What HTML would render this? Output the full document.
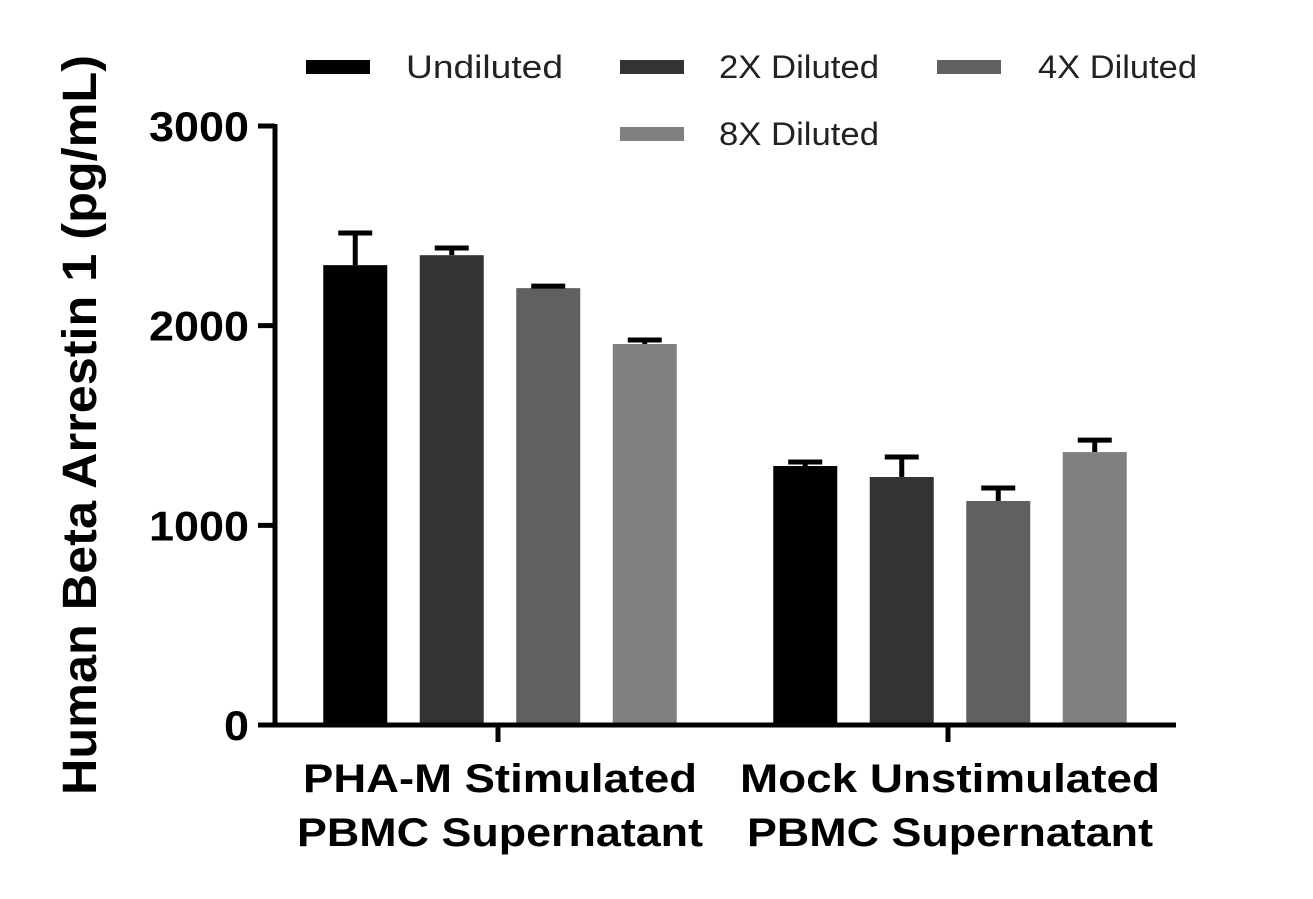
<!DOCTYPE html>
<html><head><meta charset="utf-8"><style>
html,body{margin:0;padding:0;background:#fff;}
svg{display:block;font-family:"Liberation Sans",Arial,sans-serif;}
</style></head><body>
<svg id="chart" width="1313" height="899" viewBox="0 0 1313 899"></svg>
<script>
const groups = ["PHA-M Stimulated|PBMC Supernatant", "Mock Unstimulated|PBMC Supernatant"];
const seriesNames = ["Undiluted", "2X Diluted", "4X Diluted", "8X Diluted"];
const seriesColors = ["#000000", "#333333", "#606060", "#808080"];
const meanUndiluted = [2303, 1297];
const mean2X = [2353, 1242];
const mean4X = [2188, 1122];
const mean8X = [1908, 1367];
const errUndiluted = [161, 20];
const err2X = [36, 100];
const err4X = [10, 65];
const err8X = [20, 60];
const yTicks = [0, 1000, 2000, 3000];

const means = [meanUndiluted, mean2X, mean4X, mean8X];
const errs = [errUndiluted, err2X, err4X, err8X];
const NS = "http://www.w3.org/2000/svg";
const svg = document.getElementById("chart");
function mk(tag, attrs, parent) {
  const e = document.createElementNS(NS, tag);
  for (const k in attrs) e.setAttribute(k, attrs[k]);
  (parent || svg).appendChild(e);
  return e;
}
const y0 = 725, yTop = 126, yMax = 3000;
function y(v) { return y0 - (v / yMax) * (y0 - yTop); }
const groupCenters = [500, 950];
const barW = 64, barStep = 96.5;
function barX(g, s) { return groupCenters[g] + (s - 1.5) * barStep - barW / 2; }

for (let s = 0; s < 4; s++) {
  for (let g = 0; g < groups.length; g++) {
    const v = means[s][g], e = errs[s][g];
    const x = barX(g, s), cx = x + barW / 2;
    const r = mk("rect", {x: x, y: y(v), width: barW, height: y0 - y(v), fill: seriesColors[s]});
    
    
    const eb = mk("path", {d: `M${cx} ${y(v)}V${y(v + e)}M${cx - 17} ${y(v + e)}H${cx + 17}`, stroke: "#000", "stroke-width": 5, fill: "none"});
    
    
  }
}
const ya = mk("path", {d: `M275 ${yTop - 2}V${y0}`, stroke: "#000", "stroke-width": 5});


const xa = mk("path", {d: `M258 ${y0}H1176`, stroke: "#000", "stroke-width": 5});


yTicks.forEach(t => {
  const tk = mk("path", {d: `M258 ${y(t)}H275`, stroke: "#000", "stroke-width": 5});
  
  
  const tl = mk("text", {x: 249, y: y(t) + 15, "text-anchor": "end", "font-size": 42, "font-weight": "bold", textLength: String(t).length * 25, lengthAdjust: "spacingAndGlyphs"});
  tl.textContent = t;
  
  
});
groups.forEach((gname, g) => {
  const cx = groupCenters[g];
  const tk = mk("path", {d: `M${cx - 2} ${y0}V742`, stroke: "#000", "stroke-width": 5});
  
  
  gname.split("|").forEach((line, i) => {
    const tl = mk("text", {x: cx, y: 792 + i * 54, "text-anchor": "middle", "font-size": 40, "font-weight": "bold", textLength: i === 0 ? (g === 0 ? 394 : 420) : 406, lengthAdjust: "spacingAndGlyphs"});
    tl.textContent = line;
    
    
  });
});
const yt = mk("text", {x: 0, y: 0, transform: "translate(96 425) rotate(-90)", "text-anchor": "middle", "font-size": 48, "font-weight": "bold", textLength: 740, lengthAdjust: "spacingAndGlyphs"});
yt.textContent = "Human Beta Arrestin 1 (pg/mL)";


const legPos = [[306, 67, 406, 157], [620, 67, 719, 160], [937, 67, 1038, 159], [620, 134, 719, 160]];
seriesNames.forEach((n, s) => {
  const [sx, sy, tx, tw] = legPos[s];
  const sw = mk("rect", {x: sx, y: sy - 7, width: 64, height: 14, fill: seriesColors[s]});
  
  
  const tl = mk("text", {x: tx, y: sy + 11, "font-size": 32, fill: "#222", textLength: tw, lengthAdjust: "spacingAndGlyphs"});
  tl.textContent = n;
  
  
});
</script>
</body></html>
